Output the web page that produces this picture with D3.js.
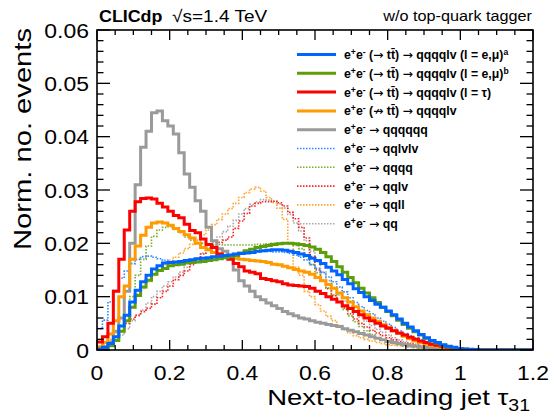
<!DOCTYPE html>
<html><head><meta charset="utf-8">
<script src="https://cdn.jsdelivr.net/npm/d3@7"></script>
<style>body{margin:0;background:#fff}svg{display:block}text{font-family:"Liberation Sans",Arial,Helvetica,sans-serif;fill:#000}</style>
</head><body><svg id="c" width="554" height="417"></svg>
<script>
// ---------------- data ----------------
const binWidth = 0.015;           // histogram bin width (x units), bins start at 0
const xTicks = [0, 0.2, 0.4, 0.6, 0.8, 1, 1.2];
const xTickLabels = ["0", "0.2", "0.4", "0.6", "0.8", "1", "1.2"];
const yTicks = [0, 0.01, 0.02, 0.03, 0.04, 0.05, 0.06];
const yTickLabels = ["0", "0.01", "0.02", "0.03", "0.04", "0.05", "0.06"];
// bin contents, in units of 1e-3
const ttLepA = [0.2,0.5,1.2,2.5,4.5,6.5,9.0,11.2,12.8,14.0,15.2,15.8,16.3,16.4,16.5,16.6,16.8,16.9,17.1,17.2,17.3,17.5,17.6,17.7,17.8,18.0,18.1,18.2,18.3,18.5,18.6,18.7,18.8,18.8,18.7,18.5,18.3,18.0,17.7,17.2,16.8,16.2,15.5,14.8,14.1,13.2,12.4,11.5,10.8,10.0,9.3,8.6,8.0,7.3,6.6,5.8,5.0,4.3,3.6,2.9,2.3,1.8,1.4,1.0,0.7,0.5,0.3,0.2,0.12,0.08];
const ttLepB = [0.1,0.3,0.8,1.8,3.5,5.5,8.0,10.2,11.8,13.1,14.2,14.9,15.3,15.8,16.0,16.1,16.3,16.4,16.5,16.6,16.8,16.9,17.1,17.3,17.5,17.7,18.2,18.6,18.9,19.2,19.4,19.6,19.8,19.9,20.0,20.0,19.9,19.8,19.6,19.3,18.9,18.3,17.5,16.6,15.6,14.6,13.6,12.6,11.6,10.7,9.8,8.9,8.0,7.2,6.4,5.6,4.8,4.1,3.4,2.8,2.2,1.7,1.3,0.9,0.6,0.4,0.25,0.15,0.08,0.04];
const ttTau = [1.5,2.5,5,11,17,22.5,26,27.8,28.4,28.5,28.3,27.5,26.8,26,25.2,24.8,23.6,22.4,22,20.8,19.8,19.2,18,17.6,17,16.2,15.6,14.8,14.6,14.3,13.4,13.2,13.0,12.8,12.4,12.2,12.1,12.0,11.9,11.6,11.0,10.6,10.0,9.5,9.0,8.3,7.8,7.2,6.6,6.0,5.5,5.0,4.5,4.1,3.6,3.2,2.8,2.4,2.0,1.7,1.4,1.1,0.9,0.7,0.5,0.35,0.25,0.15,0.1,0.05];
const nonTT = [0.6,1.4,3,5.5,10,12,17,19.5,21.5,23,23.8,24,23.8,23.4,22.8,22.2,21.6,21,20,19.2,18.8,18.3,18.0,17.6,17.3,17.2,17.0,16.9,16.8,16.7,16.6,16.4,16.1,16.0,15.7,15.4,15.1,14.8,14.6,14.2,13.6,13.0,12.3,11.6,10.7,9.8,9.0,8.1,7.3,6.6,6.0,5.4,4.8,4.2,3.6,3.1,2.6,2.1,1.7,1.4,1.1,0.9,0.7,0.5,0.35,0.25,0.15,0.1,0.05,0.03];
const sixQ = [0.3,0.6,1.5,3.5,6,11,20,31,38,41,44.5,44.8,43,42,40.5,37,33,30.5,28,26,23,20.5,19,18.5,17.5,15,13,12,11,10,9.4,8.8,8.3,7.8,7.2,6.8,6.4,6.0,5.8,5.5,5.2,5.0,4.8,4.6,4.4,4.0,3.7,3.4,3.1,2.8,2.5,2.2,1.9,1.6,1.4,1.2,1.0,0.8,0.7,0.55,0.45,0.35,0.3,0.2,0.15,0.1,0.08,0.05,0.03,0.02];
const qqlvlv = [4.0,5.6,9.0,11.2,13.5,14.8,16.2,17.0,17.5,17.6,17.4,17.1,16.8,16.5,16.3,16.3,16.4,16.5,16.6,16.8,16.9,17.0,17.2,17.4,17.6,17.8,18.0,18.2,18.3,18.4,18.5,18.5,18.4,18.4,18.3,18.1,17.8,17.4,16.9,16.0,15.3,14.5,13.7,12.8,11.8,10.9,9.8,8.9,8.1,7.4,6.8,6.0,5.4,4.8,4.2,3.6,3.1,2.7,2.3,1.9,1.6,1.3,1.0,0.8,0.6,0.45,0.3,0.2,0.12,0.08];
const qqqq = [0.3,0.6,1.2,2.5,4.5,6.5,10,14,17,19.5,21.3,22.5,23.0,23.1,22.6,22.0,21.2,20.6,20.2,20.0,19.9,19.8,19.8,19.7,19.7,19.7,19.7,19.7,19.7,19.8,19.8,19.9,20.0,20.0,20.0,19.9,19.6,19.0,17.5,16.0,14.5,13.0,11.6,10.3,9.0,7.6,6.4,5.3,4.4,3.6,2.9,2.3,1.9,1.5,1.2,1.0,0.8,0.6,0.5,0.4,0.3,0.25,0.2,0.15,0.1,0.08,0.05,0.03,0.02,0.01];
const qqlv = [0.2,0.5,1.0,2.0,3.5,5.0,5.8,6.5,7.2,7.8,8.6,9.8,11.0,12.0,13.2,14.0,14.8,16.0,17.0,18.0,19.0,19.6,20.2,20.6,21.2,22.8,24.2,25.6,27.0,27.5,27.8,27.8,27.9,27.6,27.0,25.8,24.6,23.0,21.0,17.5,15.0,13.0,11.5,10.2,9.0,7.9,6.8,5.8,5.0,4.3,3.7,3.2,2.7,2.3,1.9,1.6,1.3,1.1,0.9,0.7,0.55,0.45,0.35,0.25,0.2,0.15,0.1,0.07,0.04,0.02];
const qqll = [0.5,1.0,2.0,3.2,4.5,6.0,8.0,10.5,11.5,12.8,14.0,15.0,16.0,16.8,17.4,18.2,19.0,19.8,20.6,21.6,22.5,23.5,24.5,25.5,26.5,27.5,28.6,29.5,30.2,30.5,29.8,28.6,27.6,26.6,24.5,20.0,15.5,14.0,11.0,10.0,8.5,7.3,6.3,5.5,4.6,3.8,3.2,2.7,2.3,2.0,1.7,1.4,1.2,1.0,0.9,0.8,0.7,0.6,0.5,0.4,0.35,0.3,0.25,0.2,0.15,0.1,0.08,0.05,0.03,0.02];
const qq = [0.2,0.5,1.0,1.8,2.8,4.0,5.5,6.5,7.5,8.8,10.0,11.0,12.0,12.8,13.7,14.6,15.5,16.3,17.2,18.2,19.2,20.2,21.2,22.2,23.2,24.3,25.5,26.5,27.3,27.8,28.2,28.1,27.9,27.4,26.6,25.4,23.8,22.3,20.5,18.5,16.5,14.6,13.0,11.5,10.3,9.2,8.2,7.1,6.2,5.4,4.6,3.9,3.3,2.8,2.3,1.9,1.6,1.3,1.1,0.9,0.75,0.6,0.5,0.4,0.3,0.22,0.15,0.1,0.06,0.03];

const legendLabels = [
  "e^{+}e^{-} (\u2192 tt\u0304) \u2192 qqqqlv (l = e,\u03bc)^{a}",
  "e^{+}e^{-} (\u2192 tt\u0304) \u2192 qqqqlv (l = e,\u03bc)^{b}",
  "e^{+}e^{-} (\u2192 tt\u0304) \u2192 qqqqlv (l = \u03c4)",
  "e^{+}e^{-} (\u219b tt\u0304) \u2192 qqqqlv",
  "e^{+}e^{-} \u2192 qqqqqq",
  "e^{+}e^{-} \u2192 qqlvlv",
  "e^{+}e^{-} \u2192 qqqq",
  "e^{+}e^{-} \u2192 qqlv",
  "e^{+}e^{-} \u2192 qqll",
  "e^{+}e^{-} \u2192 qq"
];
const seriesData = [ttLepA, ttLepB, ttTau, nonTT, sixQ, qqlvlv, qqqq, qqlv, qqll, qq];
const seriesColors = ["#0064ff", "#5c9e0a", "#ff0000", "#ff9a00", "#9a9a9a", "#2e86ff", "#7aad2a", "#ff2020", "#ffa52e", "#a8a8a8"];
const seriesDotted = [false, false, false, false, false, true, true, true, true, true];

// ---------------- layout ----------------
const svg = d3.select("#c");
const L = 97, R = 533, T = 30, B = 350;
const x = d3.scaleLinear().domain([0, 1.2]).range([L, R]);
const y = d3.scaleLinear().domain([0, 0.06]).range([B, T]);

svg.append("defs").append("clipPath").attr("id", "clip")
  .append("rect").attr("x", L).attr("y", T).attr("width", R - L).attr("height", B - T);

// ---------------- histograms ----------------
const line = d3.line().x(d => x(d[0])).y(d => y(d[1])).curve(d3.curveStepAfter);
function histPoints(vals) {
  const pts = vals.map((v, i) => [i * binWidth, v * 1e-3]);
  pts.push([vals.length * binWidth, 0]);
  pts.push([x.domain()[1], 0]);
  return pts;
}
const g = svg.append("g").attr("clip-path", "url(#clip)");
const drawOrder = [9, 8, 7, 6, 5, 4, 3, 2, 1, 0];
drawOrder.forEach(k => {
  g.append("path")
    .attr("d", line(histPoints(seriesData[k])))
    .attr("fill", "none")
    .attr("stroke", seriesColors[k])
    .attr("stroke-width", seriesDotted[k] ? 1.6 : 3)
    .attr("stroke-dasharray", seriesDotted[k] ? "1.5,1.5" : null)
    .attr("stroke-linejoin", "miter");
});

// ---------------- axes ----------------
const axisG = svg.append("g");
const xMinor = d3.range(0, 1.2001, 0.05);
const yMinor = d3.range(0, 0.06001, 0.002);
function isMajor(v, step) { return Math.abs(v / step - Math.round(v / step)) < 1e-6; }
xMinor.forEach(v => {
  const len = isMajor(v, 0.2) ? 10 : 5;
  axisG.append("line").attr("x1", x(v)).attr("x2", x(v)).attr("y1", B).attr("y2", B - len).attr("stroke", "#000").attr("stroke-width", 1.3);
  axisG.append("line").attr("x1", x(v)).attr("x2", x(v)).attr("y1", T).attr("y2", T + len).attr("stroke", "#000").attr("stroke-width", 1.3);
});
yMinor.forEach(v => {
  const len = isMajor(v, 0.01) ? 13 : 6.5;
  axisG.append("line").attr("x1", L).attr("x2", L + len).attr("y1", y(v)).attr("y2", y(v)).attr("stroke", "#000").attr("stroke-width", 1.3);
  axisG.append("line").attr("x1", R).attr("x2", R - len).attr("y1", y(v)).attr("y2", y(v)).attr("stroke", "#000").attr("stroke-width", 1.3);
});
axisG.append("rect").attr("x", L).attr("y", T).attr("width", R - L).attr("height", B - T)
  .attr("fill", "none").attr("stroke", "#000").attr("stroke-width", 1.6);

const SX = 1.12; // horizontal text stretch
xTicks.forEach((v, i) => {
  svg.append("text").attr("transform", `translate(${x(v)},380) scale(${SX},1)`)
    .attr("text-anchor", "middle").attr("font-size", 20.5).text(xTickLabels[i]);
});
yTicks.forEach((v, i) => {
  svg.append("text").attr("transform", `translate(89,${y(v) + 7.5}) scale(${SX},1)`)
    .attr("text-anchor", "end").attr("font-size", 20.5).text(yTickLabels[i]);
});

// axis titles
const xt = svg.append("text").attr("transform", `translate(530,405) scale(1.22,1)`)
  .attr("text-anchor", "end").attr("font-size", 22.5);
xt.append("tspan").text("Next-to-leading jet \u03c4");
xt.append("tspan").attr("font-size", 16).attr("dy", 6).text("31");

svg.append("text").attr("transform", "translate(30.5,250) rotate(-90)")
  .attr("text-anchor", "start").attr("font-size", 24.5)
  .attr("textLength", 222).attr("lengthAdjust", "spacingAndGlyphs")
  .text("Norm. no. events");

// header
svg.append("text").attr("transform", `translate(99,21.5) scale(1.05,1)`).attr("font-size", 17).attr("font-weight", "bold").text("CLICdp");
svg.append("text").attr("transform", `translate(172,21.5) scale(${SX},1)`).attr("font-size", 17).text("\u221As=1.4 TeV");
svg.append("text").attr("transform", `translate(532,21) scale(${SX},1)`).attr("text-anchor", "end").attr("font-size", 14.5).text("w/o top-quark tagger");

// ---------------- legend ----------------
// ^{..} = superscript; arrows drawn with DejaVu Sans for a full-width glyph
function rich(sel, str) {
  const tokens = str.split(/(\^\{[^}]*\}|[\u2192\u219b])/).filter(s => s.length);
  let pendingDy = 0;
  tokens.forEach(tok => {
    const sup = tok.match(/^\^\{([^}]*)\}$/);
    if (sup) {
      sel.append("tspan").attr("dy", -4 + pendingDy).attr("font-size", "0.7em").text(sup[1]);
      pendingDy = 4;
    } else {
      const ts = sel.append("tspan").attr("dy", pendingDy || null).text(tok);
      if (/^[\u2192\u219b]$/.test(tok)) ts.attr("font-family", "DejaVu Sans").attr("font-weight", "normal");
      pendingDy = 0;
    }
  });
}
const legY0 = 54.5, legDY = 18.8;
legendLabels.forEach((lab, k) => {
  const yy = legY0 + k * legDY;
  svg.append("line").attr("x1", 297).attr("x2", 336).attr("y1", yy).attr("y2", yy)
    .attr("stroke", seriesColors[k]).attr("stroke-width", seriesDotted[k] ? 1.6 : 3)
    .attr("stroke-dasharray", seriesDotted[k] ? "1.5,1.5" : null);
  const t = svg.append("text").attr("transform", `translate(344,${yy + 4.5})`)
    .attr("font-size", 12.3).attr("font-weight", "bold");
  rich(t, lab);
});
</script></body></html>
